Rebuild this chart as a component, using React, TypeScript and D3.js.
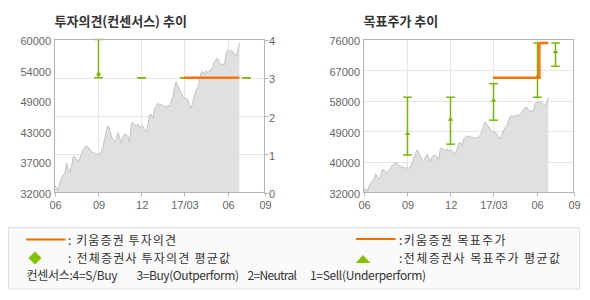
import React from 'react';
import * as d3 from 'd3';

// ---------- data ----------
const priceStart = '2016-06-02';
const priceEnd = '2017-06-26';
const prices = [
  33200, 32950, 32350, 33850, 34600, 35250, 35550, 37350, 36450, 35850,
  36750, 38600, 38450, 38100, 37650, 38300, 39050, 39800, 40300, 40550,
  40300, 39900, 39500, 39300, 39200, 38900, 39200, 38900, 39500, 40400,
  41950, 43150, 44200, 43450, 42250, 41600, 41150, 41950, 42950, 41950,
  41000, 42250, 42700, 42550, 42250, 41300, 44650, 44800, 44350, 44200,
  44550, 43750, 44200, 44050, 43450, 43150, 44350, 46200, 46300, 45600,
  47400, 47850, 48350, 47850, 48200, 47700, 47850, 47400, 48000, 47700,
  48650, 49550, 51350, 52300, 51500, 50900, 50150, 49650, 49350, 49250,
  48950, 48000, 47400, 48650, 49850, 50750, 51250, 52600, 53950, 54100,
  53700, 54300, 53800, 54400, 54300, 55050, 55950, 56350, 56550, 55750,
  55350, 55500, 55350, 57450, 58050, 57750, 58050, 57750, 57450, 56950,
  57750, 59300,
];

const xDomain = ['2016-06-01', '2017-08-18'];
const xTickDates = ['2016-06-01', '2016-09-01', '2016-12-01', '2017-03-01', '2017-06-01', '2017-08-18'];
const xTickLabels = ['06', '09', '12', '17/03', '06', '09'];

const opinionPriceDomain = [32000, 60000];
const opinionPriceLabels = ['32000', '37000', '43000', '49000', '54000', '60000'];
const opinionDomain = [0, 4];
const opinionTicks = [0, 1, 2, 3, 4];

const targetPriceDomain = [32000, 76000];
const targetPriceLabels = ['32000', '40000', '49000', '58000', '67000', '76000'];

const consDates = ['2016-09-01', '2016-12-01', '2017-03-01', '2017-06-01', '2017-07-09'];
const opinionMax = [4, 3, 3, 3, 3];
const opinionMin = [3, 3, 3, 3, 3];
const opinionAvg = [3.09, 3, 3, 3, 3];
const targetMax = [59400, 59400, 63300, 75000, 75000];
const targetMin = [42800, 45900, 52800, 59400, 68300];
const targetAvg = [48800, 52900, 58400, 65300, 72400];

const kiwoomOpinionDates = ['2017-03-01', '2017-06-26'];
const kiwoomOpinion = [3, 3];
const kiwoomTargetDates = ['2017-03-01', '2017-06-07', '2017-06-26'];
const kiwoomTarget = [65000, 75000, 75000];

const legendConsensus = ['컨센서스:4=S/Buy', '3=Buy(Outperform)', '2=Neutral', '1=Sell(Underperform)'];

// ---------- styles ----------
const ORANGE = '#ff7400';
const GREEN = '#76b800';
const LEGEND_GREEN = '#84c300';
const FRAME = '#b4b4b4';
const GRID = '#e6e6e6';
const AXIS_FONT = '"Liberation Sans", Arial, sans-serif';
const KR_FONT = '"Noto Sans CJK KR", "Noto Sans", sans-serif';

const parse = d3.timeParse('%Y-%m-%d');
const PW = 210;
const TOP = 39.5;
const BOTTOM = 192.5;

const priceDates = (() => {
  const t0 = (parse(priceStart) as Date).getTime();
  const t1 = (parse(priceEnd) as Date).getTime();
  return prices.map((_, i) => new Date(t0 + (i * (t1 - t0)) / (prices.length - 1)));
})();

function Panel(props: {
  x0: number;
  title: string;
  priceDomain: number[];
  priceLabels: string[];
  gridFromLabels: boolean;
  children: (x: d3.ScaleTime<number, number>) => React.ReactNode;
  rightAxis?: React.ReactNode;
}) {
  const { x0, title, priceDomain, priceLabels } = props;
  const x = d3.scaleTime().domain(xDomain.map((d) => parse(d) as Date)).range([x0, x0 + PW]);
  const y = d3.scaleLinear().domain(priceDomain).range([BOTTOM, TOP]);
  const labelVals = priceLabels.map((_, i) => priceDomain[0] + (i * (priceDomain[1] - priceDomain[0])) / (priceLabels.length - 1));
  const area = d3
    .area<number>()
    .x((_, i) => x(priceDates[i]))
    .y0(BOTTOM)
    .y1((d) => y(d));
  const line = d3
    .line<number>()
    .x((_, i) => x(priceDates[i]))
    .y((d) => y(d));
  const tickDates = xTickDates.map((d) => parse(d) as Date);
  return (
    <g>
      <text x={x0} y={26} fontFamily={KR_FONT} fontWeight="bold" fontSize={13} fill="#333">
        {title}
      </text>
      {tickDates.slice(1, -1).map((d, i) => (
        <line key={'vg' + i} x1={Math.round(x(d)) + 0.5} x2={Math.round(x(d)) + 0.5} y1={TOP} y2={BOTTOM} stroke={GRID} />
      ))}
      {props.gridFromLabels &&
        labelVals.slice(1, -1).map((v, i) => (
          <line key={'hg' + i} x1={x0} x2={x0 + PW} y1={Math.round(y(v)) + 0.5} y2={Math.round(y(v)) + 0.5} stroke={GRID} />
        ))}
      {props.rightAxis}
      <path d={area(prices) || ''} fill="#e0e0e0" />
      <path d={line(prices) || ''} fill="none" stroke="#c2c2c2" strokeWidth={1} />
      {props.children(x)}
      <rect x={x0} y={TOP} width={PW} height={BOTTOM - TOP} fill="none" stroke={FRAME} />
      {tickDates.map((d, i) => (
        <g key={'xt' + i}>
          <line x1={Math.round(x(d)) + 0.5} x2={Math.round(x(d)) + 0.5} y1={BOTTOM} y2={BOTTOM + 4} stroke={FRAME} />
          <text x={x(d) + 1} y={209} textAnchor="middle" fontFamily={AXIS_FONT} fontSize={11} fill="#666">
            {xTickLabels[i]}
          </text>
        </g>
      ))}
      {labelVals.map((v, i) => (
        <text key={'yl' + i} x={x0 - 3.5} y={y(v) + 5.5} textAnchor="end" fontFamily={AXIS_FONT} fontSize={11} fill="#666">
          {priceLabels[i]}
        </text>
      ))}
    </g>
  );
}

function ErrorBars(props: {
  x: d3.ScaleTime<number, number>;
  y: d3.ScaleLinear<number, number>;
  mins: number[];
  maxs: number[];
  avgs: number[];
  marker: 'diamond' | 'triangle';
}) {
  const { x, y, mins, maxs, avgs, marker } = props;
  return (
    <g>
      {consDates.map((ds, i) => {
        const cx = Math.round(x(parse(ds) as Date)) + 0.5;
        const yt = y(maxs[i]);
        const yb = y(mins[i]);
        const ya = y(avgs[i]);
        const m =
          marker === 'diamond'
            ? `M${cx},${ya - 2.5}L${cx + 2.5},${ya}L${cx},${ya + 2.5}L${cx - 2.5},${ya}Z`
            : `M${cx},${ya - 2.5}L${cx + 2.8},${ya + 1}L${cx - 2.8},${ya + 1}Z`;
        return (
          <g key={i}>
            <line x1={cx} x2={cx} y1={yt} y2={yb} stroke={GREEN} strokeWidth={1.5} />
            <line x1={cx - 4.3} x2={cx + 4.3} y1={yt} y2={yt} stroke={GREEN} strokeWidth={1.5} />
            <line x1={cx - 4.3} x2={cx + 4.3} y1={yb} y2={yb} stroke={GREEN} strokeWidth={1.5} />
            {maxs[i] > mins[i] && <path d={m} fill={GREEN} />}
          </g>
        );
      })}
    </g>
  );
}

export default function App() {
  const yOpinion = d3.scaleLinear().domain(opinionDomain).range([BOTTOM, TOP]);
  const yTarget = d3.scaleLinear().domain(targetPriceDomain).range([BOTTOM, TOP]);
  const leftX0 = 54.5;
  const rightX0 = 363.5;

  const opinionRightAxis = (
    <g>
      {opinionTicks.slice(1, -1).map((t) => (
        <line key={'og' + t} x1={leftX0} x2={leftX0 + PW} y1={Math.round(yOpinion(t)) + 0.5} y2={Math.round(yOpinion(t)) + 0.5} stroke={GRID} />
      ))}
    </g>
  );

  const consX = [26.5, 136.5, 247.5, 310];
  const consW = [91, 102.5, 49.5, 116];

  return (
    <svg width={590} height={300} style={{ position: 'fixed', left: 0, top: 0, background: '#fff' }}>
      <rect x={0} y={0} width={590} height={300} fill="#fff" />
      <Panel
        x0={leftX0}
        title="투자의견(컨센서스) 추이"
        priceDomain={opinionPriceDomain}
        priceLabels={opinionPriceLabels}
        gridFromLabels={false}
        rightAxis={opinionRightAxis}
      >
        {(x) => {
          const kl = d3
            .line<number>()
            .x((_, i) => x(parse(kiwoomOpinionDates[i]) as Date))
            .y((d) => yOpinion(d));
          return (
            <g>
              <ErrorBars x={x} y={yOpinion} mins={opinionMin} maxs={opinionMax} avgs={opinionAvg} marker="diamond" />
              <path d={kl(kiwoomOpinion) || ''} fill="none" stroke={ORANGE} strokeWidth={2.5} />
            </g>
          );
        }}
      </Panel>
      {opinionTicks.map((t) => (
        <g key={'ra' + t}>
          <line x1={leftX0 + PW} x2={leftX0 + PW + 4} y1={Math.round(yOpinion(t)) + 0.5} y2={Math.round(yOpinion(t)) + 0.5} stroke={FRAME} />
          <text x={leftX0 + PW + 4.5} y={yOpinion(t) + 5.5} fontFamily={AXIS_FONT} fontSize={11} fill="#666">
            {t}
          </text>
        </g>
      ))}
      <Panel
        x0={rightX0}
        title="목표주가 추이"
        priceDomain={targetPriceDomain}
        priceLabels={targetPriceLabels}
        gridFromLabels={true}
      >
        {(x) => {
          const tl = d3
            .line<number>()
            .x((_, i) => x(parse(kiwoomTargetDates[i]) as Date))
            .y((d) => yTarget(d))
            .curve(d3.curveStepAfter);
          return (
            <g>
              <ErrorBars x={x} y={yTarget} mins={targetMin} maxs={targetMax} avgs={targetAvg} marker="triangle" />
              <path d={tl(kiwoomTarget) || ''} fill="none" stroke={ORANGE} strokeWidth={2.5} />
            </g>
          );
        }}
      </Panel>

      {/* legend */}
      <rect x={8.5} y={227.5} width={571} height={61.5} fill="#fafafa" stroke="#dedede" />
      <line x1={26} x2={65.5} y1={239.5} y2={239.5} stroke="#ee6e00" strokeWidth={2} />
      <text x={68} y={245} fontFamily={KR_FONT} fontSize={12} fill="#333" textLength={108} lengthAdjust="spacing">: 키움증권 투자의견</text>
      <path d="M35,251.5L41.5,258L35,264.5L28.5,258Z" fill={LEGEND_GREEN} />
      <text x={68} y={263} fontFamily={KR_FONT} fontSize={12} fill="#333" textLength={162} lengthAdjust="spacing">: 전체증권사 투자의견 평균값</text>
      {legendConsensus.map((s, i) => (
        <text key={'lc' + i} x={consX[i]} y={279.5} fontFamily={KR_FONT} fontSize={12} fill="#333" textLength={consW[i]} lengthAdjust="spacing">
          {s}
        </text>
      ))}

      <line x1={356} x2={395.5} y1={239} y2={239} stroke="#ee6e00" strokeWidth={2} />
      <text x={399} y={245} fontFamily={KR_FONT} fontSize={12} fill="#333" textLength={106.5} lengthAdjust="spacing">:키움증권 목표주가</text>
      <path d="M363,255L370.3,263L355.7,263Z" fill={LEGEND_GREEN} />
      <text x={399} y={263} fontFamily={KR_FONT} fontSize={12} fill="#333" textLength={161} lengthAdjust="spacing">:전체증권사 목표주가 평균값</text>
    </svg>
  );
}
